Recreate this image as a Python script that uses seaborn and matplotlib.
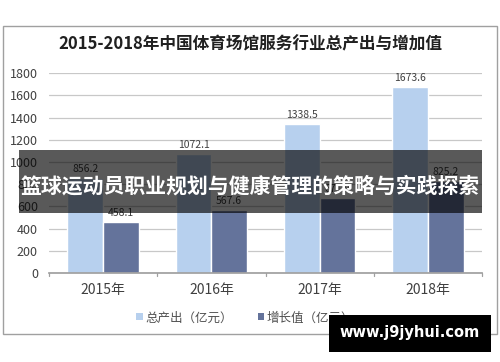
import matplotlib
matplotlib.use("Agg")
import matplotlib.pyplot as plt
import seaborn as sns
import pandas as pd
from matplotlib.patches import Rectangle, Patch

years = ["2015年", "2016年", "2017年", "2018年"]
total_output = [856.2, 1072.1, 1338.5, 1673.6]
added_value = [458.1, 567.6, 671.0, 825.2]
series_names = ["总产出（亿元）", "增长值（亿元）"]
yticks = [0, 200, 400, 600, 800, 1000, 1200, 1400, 1600, 1800]
title = "2015-2018年中国体育场馆服务行业总产出与增加值"
banner = "篮球运动员职业规划与健康管理的策略与实践探索"
watermark = "www.j9jyhui.com"

sns.set_theme(style="white")
plt.rcParams['font.family'] = ['Noto Sans CJK SC', 'DejaVu Sans']

df = pd.DataFrame({
    "year": years * 2,
    "value": total_output + added_value,
    "series": [series_names[0]] * 4 + [series_names[1]] * 4,
})
colors = ["#b7d0ee", "#64739b"]

fig = plt.figure(figsize=(5, 3.62), dpi=100)
ax = fig.add_axes([0.098, 0.246, 0.866, 0.552])
sns.barplot(data=df, x="year", y="value", hue="series", palette=colors,
            width=0.66, ax=ax, saturation=1, legend=False, zorder=2)

ax.set_ylim(0, 1800)
ax.set_yticks(yticks)
ax.set_xlim(-0.5, 3.5)
ax.yaxis.grid(True, color="#c8c8c8", linewidth=0.9, zorder=0)
ax.set_axisbelow(True)
for s in ["top", "right", "left"]:
    ax.spines[s].set_visible(False)
ax.spines["bottom"].set_color("#a0a0a0")
ax.set_xlabel("")
ax.set_ylabel("")
ax.tick_params(axis="y", labelsize=9, colors="#404040", length=0, pad=8)
ax.tick_params(axis="x", labelsize=10, colors="#404040", length=0, pad=7)
for xb in [-0.5, 0.5, 1.5, 2.5, 3.5]:
    ax.plot([xb, xb], [0, -25], color="#a0a0a0", lw=0.9, clip_on=False)

for cont in ax.containers:
    ax.bar_label(cont, fmt="%.1f", fontsize=7.5, color="#404040", padding=3)

handles = [Patch(facecolor=c, edgecolor="none") for c in colors]
fig.legend(handles, series_names, loc="center", bbox_to_anchor=(0.49, 0.122),
           ncol=2, frameon=False, fontsize=9, handlelength=0.5, handleheight=0.5,
           handletextpad=0.2, columnspacing=2.0, labelcolor="#505050")

fig.text(0.5, 0.878, title, ha="center", va="center", fontsize=12,
         fontweight="bold", color="#202020")

fig.patches.append(Rectangle((3/500, 1-334/362), 494/500, 308/362,
                             transform=fig.transFigure, fill=False,
                             edgecolor="#a0a0a0", lw=1.0))

fig.patches.append(Rectangle((19/500, 1-213/362), 463/500, 63/362,
                             transform=fig.transFigure, facecolor="black",
                             alpha=0.65, edgecolor="none", zorder=10))
fig.text(250/500, 1-186/362, banner, ha="center", va="center", fontsize=15,
         fontweight="bold", color="white", zorder=11)

fig.patches.append(Rectangle((329/500, 1-352/362), 162/500, 37/362,
                             transform=fig.transFigure, facecolor="black",
                             edgecolor="none", zorder=10))
fig.text(410/500, 1-333/362, watermark, ha="center", va="center", fontsize=10.5,
         fontweight="bold", color="white", zorder=11, family="DejaVu Sans")

fig.savefig("out.png", dpi=100)
